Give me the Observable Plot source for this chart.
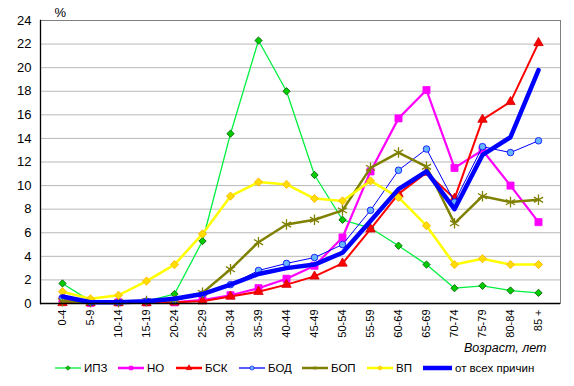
<!DOCTYPE html>
<html><head><meta charset="utf-8">
<script src="https://cdn.jsdelivr.net/npm/d3@7"></script>
<script src="https://cdn.jsdelivr.net/npm/@observablehq/plot@0.6"></script>
<style>
body{margin:0;background:#fff;font-family:"Liberation Sans",Arial,sans-serif;}
#chart svg{display:block;}
#legend{position:relative;height:24px;font-size:11.5px;color:#000;}
.item{position:absolute;top:0;height:24px;display:flex;align-items:center;white-space:nowrap;}
.item svg{margin-right:3px;}
</style></head>
<body><div id="chart"></div><div id="legend"></div>
<script>
const ages = ["0-4","5-9","10-14","15-19","20-24","25-29","30-34","35-39","40-44","45-49","50-54","55-59","60-64","65-69","70-74","75-79","80-84","85 +"];
const ipz  = [1.7,0.2,0.1,0.2,0.8,5.3,14.4,22.3,18.0,10.9,7.1,6.4,4.9,3.3,1.3,1.5,1.1,0.9];
const no   = [0.3,0.05,0.1,0.1,0.1,0.3,0.7,1.3,2.1,3.2,5.6,11.2,15.7,18.1,11.5,13.0,10.0,6.9];
const bsk  = [0.05,0.05,0.05,0.05,0.1,0.2,0.6,1.0,1.6,2.3,3.4,6.3,9.3,11.1,8.9,15.6,17.1,22.1];
const bod  = [0.5,0.1,0.1,0.2,0.3,0.8,1.6,2.8,3.4,3.9,5.0,7.9,11.3,13.1,8.6,13.3,12.8,13.8];
const bop  = [0.2,0.1,0.1,0.2,0.3,0.9,2.9,5.2,6.7,7.1,7.9,11.5,12.8,11.6,6.8,9.1,8.6,8.8];
const vp   = [1.0,0.4,0.7,1.9,3.3,5.9,9.1,10.3,10.1,8.9,8.7,10.4,9.0,6.6,3.3,3.8,3.3,3.3];
const all  = [0.6,0.1,0.1,0.2,0.4,0.8,1.6,2.5,3.0,3.3,4.3,7.0,9.7,11.2,8.0,12.6,14.1,19.8];
const yTicks = [0,2,4,6,8,10,12,14,16,18,20,22,24];
const names = ["ИПЗ","НО","БСК","БОД","БОП","ВП","от всех причин"];
const legendLeft = [55,118,176,239,302,367,423];

const seriesDefs = [
  {name:names[0], vals:ipz, stroke:"#00f040", sw:1.3, symbol:"diamond2", r:3.3, fill:"#00cc00", mstroke:"#005500"},
  {name:names[1], vals:no,  stroke:"#ff00ff", sw:2.2, symbol:"square", r:4.0, fill:"#ff00ff", mstroke:"#ff00ff"},
  {name:names[2], vals:bsk, stroke:"#ff0000", sw:2, symbol:"triangle", r:3.5, fill:"#ff0000", mstroke:"#cc0000"},
  {name:names[3], vals:bod, stroke:"#0000ff", sw:1, symbol:"circle", r:3.3, fill:"#66b3ff", mstroke:"#0000ff"},
  {name:names[4], vals:bop, stroke:"#808000", sw:2.5, symbol:"asterisk", r:5.0, fill:"none", mstroke:"#808000"},
  {name:names[5], vals:vp,  stroke:"#ffff00", sw:2.5, symbol:"diamond2", r:3.7, fill:"#ffdd00", mstroke:"#ffb000"},
  {name:names[6], vals:all, stroke:"#0000ff", sw:4.5, symbol:null}
];

const marks = [
  Plot.gridY(yTicks, {stroke:"#b8b8b8", strokeOpacity:1}),
  Plot.frame({stroke:"#808080"}),
  Plot.axisY(yTicks, {tickSize:0, tickPadding:9, fontSize:13, label:null}),
  Plot.axisX({tickSize:0, tickPadding:6, tickRotate:-90, fontSize:11, label:null}),
];
for (const s of seriesDefs) {
  const data = ages.map((a,i)=>({age:a, v:s.vals[i]}));
  marks.push(Plot.line(data, {x:"age", y:"v", stroke:s.stroke, strokeWidth:s.sw, strokeLinejoin:"round"}));
  if (s.symbol) marks.push(Plot.dot(data, {x:"age", y:"v", symbol:s.symbol, r:s.r, fill:s.fill, stroke:s.mstroke, strokeWidth: s.symbol==="asterisk"?1.3:0.8}));
}
marks.push(Plot.ruleY([0], {stroke:"#000", strokeWidth:1.3}));
marks.push(Plot.frame({anchor:"left", stroke:"#000", strokeWidth:1.3}));
marks.push(Plot.text(["%"], {frameAnchor:"top-left", dx:14, dy:-13, fontSize:13, fill:"#000"}));
marks.push(Plot.text(["Возраст, лет"], {frameAnchor:"bottom-right", dx:-14, dy:48, fontSize:12.5, fontStyle:"italic", textAnchor:"end", fill:"#000"}));

const chart = Plot.plot({
  width:574, height:356,
  marginLeft:40, marginTop:20, marginRight:14, marginBottom:53,
  style:{fontFamily:"'Liberation Sans', Arial, sans-serif", color:"#000", background:"#fff", overflow:"visible"},
  x:{type:"point", domain:ages, padding:0.5},
  y:{domain:[0,24]},
  marks
});
document.getElementById("chart").appendChild(chart);

// legend
const leg = document.getElementById("legend");
seriesDefs.forEach((s,k) => {
  const it = document.createElement("div"); it.className="item"; it.style.left = legendLeft[k]+"px";
  const ns="http://www.w3.org/2000/svg";
  const w = k===6?29:26;
  const sv=document.createElementNS(ns,"svg"); sv.setAttribute("width",w); sv.setAttribute("height",10);
  const ln=document.createElementNS(ns,"line");
  ln.setAttribute("x1",0);ln.setAttribute("x2",w);ln.setAttribute("y1",5);ln.setAttribute("y2",5);
  ln.setAttribute("stroke",s.stroke);ln.setAttribute("stroke-width",k===6?4.5:(s.sw<2?1.3:2.5));
  sv.appendChild(ln);
  if (s.symbol){
    const sym = {diamond2:d3.symbolDiamond2, square:d3.symbolSquare, triangle:d3.symbolTriangle, circle:d3.symbolCircle, asterisk:d3.symbolAsterisk}[s.symbol];
    const p=document.createElementNS(ns,"path");
    p.setAttribute("d", d3.symbol(sym, 14)());
    p.setAttribute("transform","translate("+(w/2)+",5)");
    p.setAttribute("fill", s.fill); p.setAttribute("stroke", s.mstroke); p.setAttribute("stroke-width",0.6);
    sv.appendChild(p);
  }
  it.appendChild(sv);
  const t=document.createElement("span"); t.textContent=s.name; it.appendChild(t);
  leg.appendChild(it);
});
</script></body></html>
